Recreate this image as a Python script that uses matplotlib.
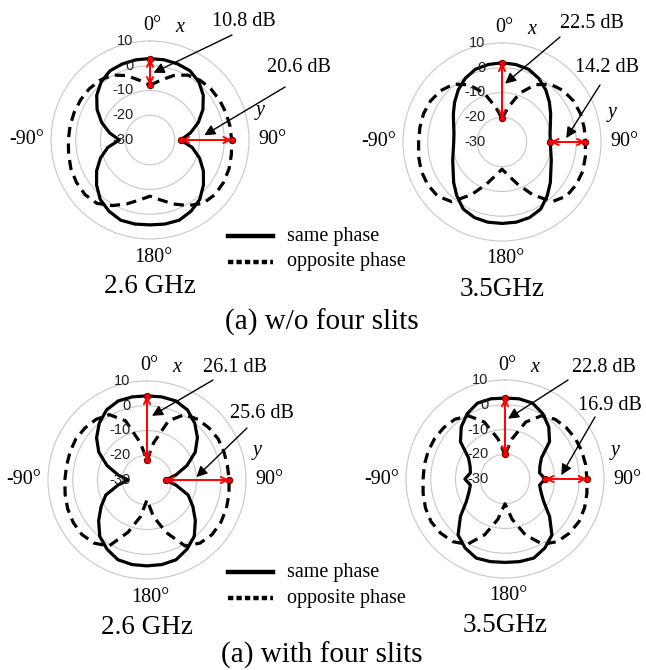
import numpy as np
import matplotlib.pyplot as plt
from matplotlib.lines import Line2D

plt.rcParams['font.family'] = ['Liberation Serif', 'DejaVu Serif']

W, H = 646, 670

angles = list(range(0, 360, 10))

# 2.6 GHz, w/o four slits
same_26_wo = [2.9, 2.9, 2.7, 2.3, 0.7, -1.9, -5.3, -9.2, -13.4, -17.6, -12.7, -8.7, -5.1, -1.8, 1.3, 3.2, 4.5, 4.5, 4.3,
              4.5, 4.5, 3.2, 1.3, -1.8, -5.1, -8.7, -12.7, -17.6, -13.4, -9.2, -5.3, -1.9, 0.7, 2.3, 2.7, 2.9]
opp_26_wo = [-7.9, -5.5, -2.3, 0.3, 1.5, 2.1, 2.4, 2.6, 2.8, 3.0, 3.4, 4.0, 4.3, 4.3, 3.4, 0.6, -2.5, -5.4, -7.3,
             -5.4, -2.5, 0.6, 3.4, 4.3, 4.3, 4.0, 3.4, 3.0, 2.8, 2.6, 2.4, 2.1, 1.5, 0.3, -2.3, -5.5]
# 3.5 GHz, w/o four slits
same_35_wo = [2.0, 1.8, 1.3, -0.3, -2.5, -5.0, -7.3, -9.2, -10.3, -10.5, -10.0, -8.8, -7.2, -4.5, -1.6, 1.3, 2.5, 2.9, 2.9,
              2.9, 2.5, 1.3, -1.6, -4.5, -7.2, -8.8, -10.0, -10.5, -10.3, -9.2, -7.3, -5.0, -2.5, -0.3, 1.3, 1.8]
opp_35_wo = [-20.5, -15.8, -9.0, -3.3, 0.5, 2.3, 3.3, 3.7, 3.7, 3.7, 4.2, 4.7, 4.6, 4.0, 1.5, -5.5, -12.0, -16.5, -19.0,
             -16.5, -12.0, -5.5, 1.5, 4.0, 4.6, 4.7, 4.2, 3.7, 3.7, 3.7, 3.3, 2.3, 0.5, -3.3, -9.0, -15.8]
# 2.6 GHz, with four slits
same_26_w = [4.0, 4.1, 4.0, 2.7, 0.0, -3.4, -7.5, -12.8, -18.1, -22.4, -18.1, -12.3, -8.6, -4.5, -0.3, 2.3, 4.3, 4.7, 4.7,
             4.7, 4.3, 2.3, -0.3, -4.5, -8.6, -12.3, -18.1, -22.4, -18.1, -12.8, -7.5, -3.4, 0.0, 2.7, 4.0, 4.1]
opp_26_w = [-22.1, -14.8, -4.5, 0.5, 2.0, 2.7, 3.2, 3.1, 3.0, 3.2, 3.6, 4.1, 4.4, 4.3, 3.3, 0.8, -7.5, -15.0, -22.0,
            -15.0, -7.5, 0.8, 3.3, 4.3, 4.4, 4.1, 3.6, 3.2, 3.0, 3.1, 3.2, 2.7, 2.0, 0.5, -4.5, -14.8]
# 3.5 GHz, with four slits
same_35_w = [2.7, 2.9, 2.6, 0.5, -2.5, -6.5, -13.0, -15.0, -15.8, -13.8, -15.8, -14.5, -12.0, -6.5, -0.5, 2.2, 4.0, 3.9, 3.7,
             3.9, 4.0, 2.2, -0.5, -6.5, -12.0, -14.5, -15.8, -13.8, -15.8, -15.0, -13.0, -6.5, -2.5, 0.5, 2.6, 2.9]
opp_35_w = [-20.1, -13.5, -5.5, -0.5, 1.5, 2.3, 2.8, 3.0, 3.1, 3.1, 3.6, 4.2, 4.5, 4.0, 3.0, 0.5, -6.0, -13.5, -20.0,
            -13.5, -6.0, 0.5, 3.0, 4.0, 4.5, 4.2, 3.6, 3.1, 3.1, 3.0, 2.8, 2.3, 1.5, -0.5, -5.5, -13.5]

r_ticks = [10, 0, -10, -20, -30]
diff_labels = [("10.8 dB", "20.6 dB"), ("22.5 dB", "14.2 dB"), ("26.1 dB", "25.6 dB"), ("22.8 dB", "16.9 dB")]
freq_labels = ["2.6 GHz", "3.5GHz", "2.6 GHz", "3.5GHz"]
captions = ["(a) w/o four slits", "(a) with four slits"]
legend_labels = ["same phase", "opposite phase"]


def fp(x, y):
    return (x / W, 1 - y / H)


fig = plt.figure(figsize=(W / 100, H / 100), dpi=100)


def polar(cx, cy, same, opp, labels, freq, arrows):
    R = 99
    ax = fig.add_axes([(cx - R) / W, 1 - (cy + R) / H, 2 * R / W, 2 * R / H], projection='polar')
    ax.set_theta_zero_location('N')
    ax.set_theta_direction(-1)
    ax.set_ylim(-30, 10)
    ax.set_yticks([-20, -10, 0])
    ax.set_yticklabels([])
    ax.set_xticks([])
    ax.grid(True, color='#c8c8c8', lw=0.8)
    ax.spines['polar'].set_color('#c8c8c8')
    ax.spines['polar'].set_linewidth(0.8)
    for v in r_ticks:
        ax.annotate(str(v), xy=(0, v), xytext=(-12, 0), textcoords='offset points',
                    ha='right', va='center', fontsize=10.5, family='Liberation Sans', color='#222222')

    th = np.radians(angles + [360])
    ax.plot(th, same + [same[0]], color='k', lw=2.3, solid_joinstyle='round')
    ax.plot(th, opp + [opp[0]], color='k', lw=2.3, ls=(0, (3.2, 2.0)))

    # red difference arrows at 0 and 90 deg
    for i, t in [(0, 0.0), (9, np.pi / 2)]:
        ax.annotate('', xy=(t, opp[i]), xytext=(t, same[i]),
                    arrowprops=dict(arrowstyle='<->', color='red', lw=1.4, shrinkA=0, shrinkB=0, mutation_scale=11))
        ax.plot([t, t], [same[i], opp[i]], 'o', ms=4.5, mfc='red', mec='#700000', mew=0.8)

    # black pointer arrows with dB labels
    for lab, (tx, ty), (hx, hy), (ax_t, ax_r) in zip(labels, arrows[0], arrows[1], arrows[2]):
        fig.text(tx / W, 1 - ty / H, lab, fontsize=14.5, ha='left', va='center')
        ax.annotate('', xy=(np.radians(ax_t), ax_r), xytext=fp(hx, hy), textcoords='figure fraction',
                    arrowprops=dict(arrowstyle='-|>', color='k', lw=1.0, shrinkA=0, shrinkB=0, mutation_scale=16))

    def t(dx, dy, s, **kw):
        fig.text((cx + dx) / W, 1 - (cy + dy) / H, s, ha='center', va='center', **kw)

    t(2, -114, "0°", fontsize=14.5)
    t(30, -112, "x", fontsize=14.5, style='italic')
    t(110, -29, "y", fontsize=14.5, style='italic')
    t(122, 0, "90°", fontsize=14.5)
    t(-123, 0, "-90°", fontsize=14.5)
    t(3, 117, "180°", fontsize=14.5)
    t(0, 147, freq, fontsize=19.5)
    return ax


arrows_1 = [[(212, 22), (267, 68)], [(232, 35), (285, 87)], [(3, -2.8), (85, -8)]]
arrows_2 = [[(560, 23), (575, 67)], [(560, 37), (600, 85)], [(3, -6.4), (86.5, -4)]]
arrows_3 = [[(203, 368), (230, 414)], [(213, 380), (247, 428)], [(4.4, -4), (86.6, -10)]]
arrows_4 = [[(572, 368), (578, 405)], [(568, 380), (595, 417)], [(2.8, -5.6), (86, -7.2)]]

polar(150, 140, same_26_wo, opp_26_wo, diff_labels[0], freq_labels[0], arrows_1)
polar(502, 142, same_35_wo, opp_35_wo, diff_labels[1], freq_labels[1], arrows_2)
polar(147, 480, same_26_w, opp_26_w, diff_labels[2], freq_labels[2], arrows_3)
polar(505, 479, same_35_w, opp_35_w, diff_labels[3], freq_labels[3], arrows_4)

# legends
for y0 in [236, 572]:
    fig.add_artist(Line2D([228 / W, 273 / W], [1 - y0 / H] * 2, color='k', lw=3.2))
    fig.add_artist(Line2D([228 / W, 273 / W], [1 - (y0 + 26) / H] * 2, color='k', lw=3.2, ls=(0, (1.2, 0.7))))
    fig.text(287 / W, 1 - y0 / H, legend_labels[0], fontsize=14.5, ha='left', va='center')
    fig.text(287 / W, 1 - (y0 + 26) / H, legend_labels[1], fontsize=14.5, ha='left', va='center')

fig.text(322 / W, 1 - 322 / H, captions[0], fontsize=21, ha='center', va='center')
fig.text(322 / W, 1 - 655 / H, captions[1], fontsize=21, ha='center', va='center')

fig.savefig("out.png", dpi=100)
